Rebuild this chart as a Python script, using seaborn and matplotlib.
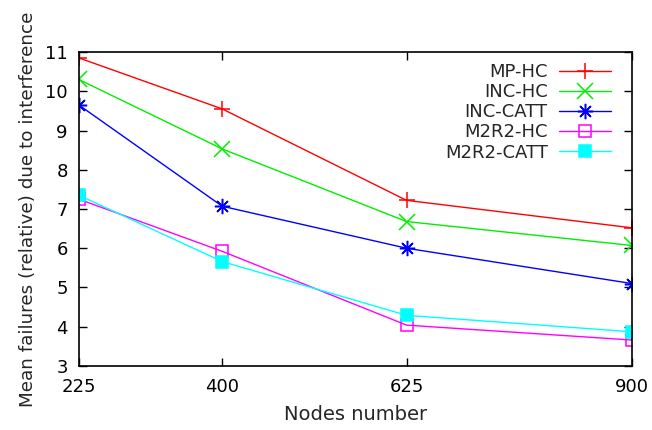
import matplotlib
matplotlib.use("Agg")
import matplotlib.pyplot as plt
import seaborn as sns
import pandas as pd

nodes = [225, 400, 625, 900]
series_names = ["MP-HC", "INC-HC", "INC-CATT", "M2R2-HC", "M2R2-CATT"]
mp_hc = [10.85, 9.55, 7.22, 6.52]
inc_hc = [10.3, 8.53, 6.68, 6.07]
inc_catt = [9.65, 7.07, 6.0, 5.1]
m2r2_hc = [7.25, 5.92, 4.04, 3.66]
m2r2_catt = [7.35, 5.66, 4.29, 3.87]
values = [mp_hc, inc_hc, inc_catt, m2r2_hc, m2r2_catt]

colors = ["#ff0000", "#00ee00", "#0000ff", "#ff00ff", "#00ffff"]
markers = ["+", "x", (8, 2, 0), "s", "s"]
msizes = [12, 11, 11, 9, 9]
filled = [True, True, True, False, True]

sns.set_style("ticks")
plt.rcParams["font.family"] = ["DejaVu Sans"]

fig, ax = plt.subplots(figsize=(6.52, 4.30), dpi=100)
fig.subplots_adjust(left=0.121, right=0.969, top=0.879, bottom=0.149)

for name, vals, c, m, ms, f in zip(series_names, values, colors, markers, msizes, filled):
    df = pd.DataFrame({"nodes": nodes, "val": vals})
    sns.lineplot(data=df, x="nodes", y="val", ax=ax, color=c, marker=m,
                 markersize=ms, markeredgecolor=c,
                 markerfacecolor=(c if f else "none"),
                 markeredgewidth=1.1, linewidth=1.0, label=name)

ax.set_xlim(225, 900)
ax.set_ylim(3, 11)
ax.set_xticks(nodes)
ax.set_xticklabels([str(n) for n in nodes])
ax.set_yticks(range(3, 12))
ax.tick_params(direction="in", length=6, width=1, top=True, right=True,
               labelsize=13, colors="black")
ax.tick_params(axis="x", pad=9)
ax.tick_params(axis="y", pad=8)
for s in ax.spines.values():
    s.set_visible(True)
    s.set_linewidth(1.2)
    s.set_color("black")
ax.set_xlabel("Nodes number", fontsize=14, labelpad=6)
ax.set_ylabel("Mean failures (relative) due to interference", fontsize=13.2, labelpad=6)

leg = ax.legend(loc="upper right", bbox_to_anchor=(0.982, 1.0), frameon=False,
                markerfirst=False, fontsize=13, handlelength=2.9, labelspacing=0.12,
                borderaxespad=0.3, handletextpad=0.6, borderpad=0.3)

fig.savefig("out.png", dpi=100)
